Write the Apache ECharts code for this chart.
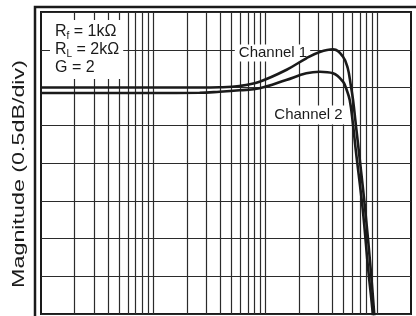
<!DOCTYPE html>
<html>
<head>
<meta charset="utf-8">
<script src="https://cdn.jsdelivr.net/npm/echarts@6/dist/echarts.min.js"></script>
<style>
    html, body { margin: 0; padding: 0; background: #fff; }
    #chart { width: 416px; height: 316px; }
</style>
</head>
<body>
<div id="chart"></div>
<script>
    // frequency (relative, log) and magnitude (dB)
    var ch1Freq = [1, 10, 26, 39.2, 59.1, 89.1, 154, 233, 307, 403, 495, 545, 580, 608, 652, 691, 781, 875, 940, 979];
    var ch1Mag  = [0, 0, 0, 0.003, 0.02, 0.077, 0.232, 0.387, 0.47, 0.506, 0.408, 0.258, 0.033, -0.166, -0.563, -0.894, -1.623, -2.417, -3.0, -3.344];
    var ch2Freq = [1, 10, 26, 39.2, 59.1, 89.1, 154, 233, 307, 403, 495, 534, 568, 604, 643, 743, 831, 912, 940];
    var ch2Mag  = [-0.073, -0.073, -0.07, -0.056, -0.037, -0.011, 0.099, 0.188, 0.209, 0.188, 0.077, -0.033, -0.166, -0.457, -0.828, -1.623, -2.417, -3.0, -3.344];
    // vertical grid lines (1-2-3...9 per decade)
    var decades = [1, 10, 100, 1000];
    var steps = [1, 2, 3, 4, 5, 6, 7, 8, 9];

    var FONT = '"Liberation Sans", Arial, sans-serif';
    var INK = '#1a1a1a';

    var gridFreqs = [];
    decades.forEach(function (d) {
        steps.forEach(function (s) {
            if (d * s > 1 && d * s < 2000) gridFreqs.push(d * s);
        });
    });

    function pairs(xs, ys) {
        return xs.map(function (x, i) { return [x, ys[i]]; });
    }

    var chart = echarts.init(document.getElementById('chart'));
    chart.setOption({
        animation: false,
        backgroundColor: '#fff',
        grid: {
            left: 41, top: 12, right: 5, bottom: 2,
            show: true, borderColor: INK, borderWidth: 2, backgroundColor: '#fff'
        },
        xAxis: {
            type: 'log', logBase: 10, min: 1, max: 2000,
            axisLine: { show: false }, axisTick: { show: false },
            axisLabel: { show: false }, splitLine: { show: false }
        },
        yAxis: {
            type: 'value', min: -3, max: 1, interval: 0.5,
            axisLine: { show: false }, axisTick: { show: false },
            axisLabel: { show: false },
            splitLine: { show: true, lineStyle: { color: '#2b2b2b', width: 1.2 } }
        },
        series: [
            {
                // only carries the vertical grid
                type: 'line', data: [[1, 0]], symbol: 'none', silent: true,
                lineStyle: { opacity: 0 }, z: 1,
                markLine: {
                    silent: true, symbol: ['none', 'none'],
                    label: { show: false },
                    lineStyle: { type: 'solid', color: '#2b2b2b', width: 1.2 },
                    data: gridFreqs.map(function (v) { return { xAxis: v }; })
                }
            },
            {
                name: 'Channel 1', type: 'line', data: pairs(ch1Freq, ch1Mag),
                smooth: 0.4, symbol: 'none', z: 150,
                lineStyle: { color: INK, width: 2.6 }
            },
            {
                name: 'Channel 2', type: 'line', data: pairs(ch2Freq, ch2Mag),
                smooth: 0.4, symbol: 'none', z: 150,
                lineStyle: { color: INK, width: 2.6 }
            }
        ],
        graphic: {
            elements: [
                {
                    type: 'rect', z: 100, silent: true,
                    shape: { x: 35, y: 7, width: 420, height: 340 },
                    style: { fill: 'none', stroke: INK, lineWidth: 2.5 }
                },
                {
                    // the axis title is drawn stretched along its length in the original
                    type: 'text', z: 100, x: 19, y: 174, rotation: Math.PI / 2,
                    scaleX: 1.37,
                    style: {
                        text: 'Magnitude (0.5dB/div)', fill: INK, font: '17px ' + FONT,
                        align: 'center', verticalAlign: 'middle'
                    }
                },
                {
                    type: 'text', z: 100, x: 50, y: 20,
                    style: {
                        text: '{a|R}{s|f}{a| = 1kΩ}\n{a|R}{s|L}{a| = 2kΩ}\n{a|G = 2}',
                        backgroundColor: '#fff', padding: [3, 4, 2, 5], fill: INK,
                        rich: {
                            a: { fontSize: 16, lineHeight: 18, fontFamily: FONT, fill: INK },
                            s: { fontSize: 10, lineHeight: 10, fontFamily: FONT, fill: INK, verticalAlign: 'bottom' }
                        }
                    }
                },
                {
                    type: 'text', z: 100, x: 272.5, y: 53,
                    style: {
                        text: 'Channel 1', fill: INK, font: '15px ' + FONT,
                        align: 'center', verticalAlign: 'middle',
                        backgroundColor: '#fff', padding: [1, 3, 1, 4]
                    }
                },
                {
                    type: 'text', z: 100, x: 308, y: 115,
                    style: {
                        text: 'Channel 2', fill: INK, font: '15px ' + FONT,
                        align: 'center', verticalAlign: 'middle',
                        backgroundColor: '#fff', padding: [2, 4, 2, 5]
                    }
                }
            ]
        }
    });
</script>
</body>
</html>
